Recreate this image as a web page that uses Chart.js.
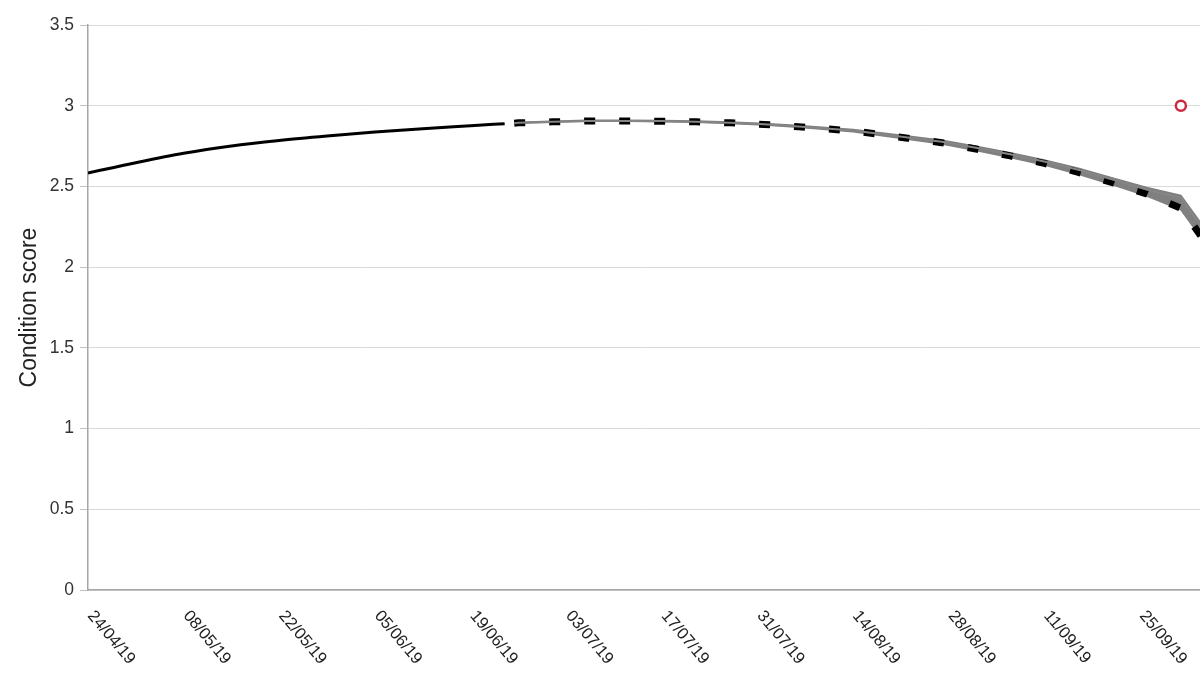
<!DOCTYPE html>
<html>
<head>
<meta charset="utf-8">
<title>Condition score</title>
<script src="https://cdn.jsdelivr.net/npm/chart.js@4.4.1/dist/chart.umd.min.js"></script>
<style>
  html, body { margin: 0; padding: 0; background: #fff; overflow: hidden; }
  #wrap { position: relative; width: 1200px; height: 673px; }
</style>
</head>
<body>
<div id="wrap"><canvas id="chart"></canvas></div>
<script>
// x values are days counted from 24/04/19
const tickDays = [0, 14, 28, 42, 56, 70, 84, 98, 112, 126, 140, 154];
const tickLabels = ['24/04/19', '08/05/19', '22/05/19', '05/06/19', '19/06/19', '03/07/19',
                    '17/07/19', '31/07/19', '14/08/19', '28/08/19', '11/09/19', '25/09/19'];

const observedDays = [0, 7, 14, 21, 28, 35, 42, 49, 56, 61];
const observedScores = [2.583, 2.647, 2.705, 2.750, 2.784, 2.812, 2.837, 2.858, 2.876, 2.889];

const forecastDays = [62.4, 63, 68, 73, 79, 84, 89, 94, 99, 104, 112, 120, 125, 130, 135, 140, 145, 150, 155, 160, 163];
const forecastMean = [2.892, 2.894, 2.900, 2.906, 2.906, 2.904, 2.900, 2.894, 2.884, 2.870, 2.844, 2.799,
                      2.771, 2.732, 2.689, 2.643, 2.587, 2.523, 2.453, 2.365, 2.190];
const forecastUpper = [2.896, 2.898, 2.904, 2.910, 2.910, 2.909, 2.905, 2.899, 2.890, 2.877, 2.853, 2.812,
                       2.786, 2.749, 2.708, 2.664, 2.612, 2.553, 2.493, 2.445, 2.270];
const forecastLower = [2.889, 2.891, 2.897, 2.903, 2.903, 2.901, 2.897, 2.890, 2.880, 2.866, 2.838, 2.792,
                       2.763, 2.723, 2.679, 2.632, 2.575, 2.510, 2.440, 2.355, 2.180];
const forecastMid = [2.892, 2.894, 2.900, 2.906, 2.906, 2.905, 2.901, 2.895, 2.885, 2.871, 2.846, 2.803,
                     2.777, 2.740, 2.699, 2.655, 2.603, 2.543, 2.480, 2.430, 2.250];

const assessedDays = [160];
const assessedScores = [3.0];

const xMaxDay = 162.8;
const fontFamily = '"Liberation Sans", Arial, sans-serif';

function toPoints(days, values) {
    return days.map((d, i) => ({ x: d, y: values[i] }));
}

// draws the date labels turned clockwise, starting at each tick
const dateLabels = {
    id: 'dateLabels',
    afterDraw(chart) {
        const scale = chart.scales.x;
        const ctx = chart.ctx;
        ctx.save();
        ctx.font = '16.5px ' + fontFamily;
        ctx.fillStyle = '#222222';
        ctx.textAlign = 'left';
        ctx.textBaseline = 'middle';
        tickDays.forEach((d, i) => {
            const px = scale.getPixelForValue(d);
            ctx.save();
            ctx.translate(px + 2.5, scale.top + 23);
            ctx.rotate(50 * Math.PI / 180);
            ctx.fillText(tickLabels[i], 0, 0);
            ctx.restore();
        });
        ctx.restore();
    }
};

const ctx = document.getElementById('chart').getContext('2d');

new Chart(ctx, {
    type: 'line',
    data: {
        datasets: [
            {
                label: 'Assessed',
                data: toPoints(assessedDays, assessedScores),
                showLine: false,
                pointRadius: 5,
                pointBorderWidth: 2.5,
                pointBorderColor: '#cc2940',
                pointBackgroundColor: '#ffffff'
            },
            {
                label: 'Ensemble centre',
                data: toPoints(forecastDays, forecastMid),
                borderColor: '#858585',
                borderWidth: 2,
                pointRadius: 0,
                tension: 0,
                fill: false
            },
            {
                label: 'Observed',
                data: toPoints(observedDays, observedScores),
                borderColor: '#000000',
                borderWidth: 3,
                pointRadius: 0,
                cubicInterpolationMode: 'monotone',
                fill: false
            },
            {
                label: 'Forecast',
                data: toPoints(forecastDays, forecastMean),
                borderColor: '#000000',
                borderWidth: 7,
                borderDash: [11, 24],
                borderCapStyle: 'butt',
                pointRadius: 0,
                tension: 0,
                fill: false
            },
            {
                label: 'Upper',
                data: toPoints(forecastDays, forecastUpper),
                borderColor: '#808080',
                borderWidth: 1.5,
                backgroundColor: '#808080',
                pointRadius: 0,
                tension: 0,
                fill: '+1'
            },
            {
                label: 'Lower',
                data: toPoints(forecastDays, forecastLower),
                borderColor: '#808080',
                borderWidth: 1.5,
                pointRadius: 0,
                tension: 0,
                fill: false
            }
        ]
    },
    options: {
        responsive: true,
        maintainAspectRatio: false,
        animation: false,
        layout: { autoPadding: false, padding: { top: 25, right: 0, bottom: 0, left: 0 } },
        plugins: {
            legend: { display: false },
            tooltip: { enabled: false }
        },
        scales: {
            x: {
                type: 'linear',
                min: 0,
                max: xMaxDay,
                grid: { display: false },
                border: { display: true, color: '#a6a6a6', width: 1.5 },
                ticks: { display: false },
                afterFit: function(scale) {
                    scale.height = 83;
                }
            },
            y: {
                min: 0,
                max: 3.5,
                ticks: {
                    stepSize: 0.5,
                    color: '#333333',
                    padding: 6,
                    font: { family: fontFamily, size: 17.5 },
                    callback: function(value) {
                        return String(value);
                    }
                },
                grid: { color: '#d9d9d9', tickColor: '#bfbfbf', tickLength: 8, lineWidth: 1 },
                border: { color: '#a6a6a6', width: 1.5 },
                title: {
                    display: true,
                    text: 'Condition score',
                    color: '#222222',
                    font: { family: fontFamily, size: 23 },
                    padding: { top: 16, bottom: 0 }
                },
                afterFit: function(scale) {
                    scale.width = 88;
                }
            }
        }
    },
    plugins: [dateLabels]
});
</script>
</body>
</html>
